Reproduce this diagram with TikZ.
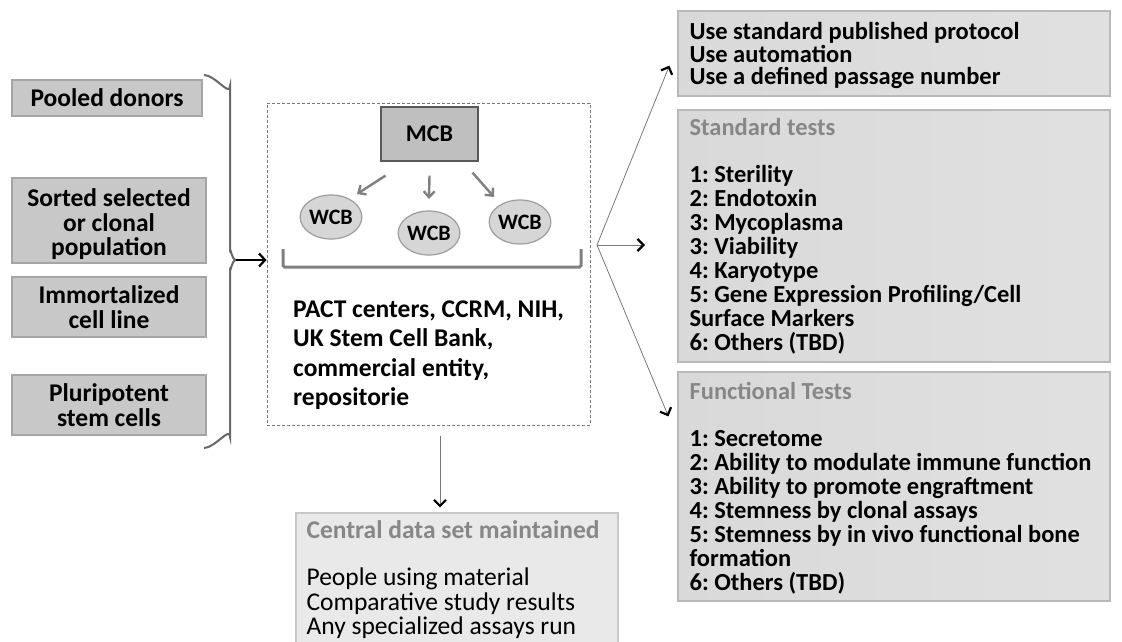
\documentclass[tikz,border=0pt]{standalone}
\usepackage{fontspec}
\setmainfont{Carlito}
\frenchspacing
\usetikzlibrary{arrows.meta,shapes.geometric,calc}
\definecolor{lbfill}{RGB}{200,200,200}
\definecolor{lbdraw}{RGB}{165,165,165}
\definecolor{rbfill}{RGB}{217,217,217}
\definecolor{rbdraw}{RGB}{185,185,185}
\definecolor{cdfill}{RGB}{233,233,233}
\definecolor{cddraw}{RGB}{200,200,200}
\definecolor{titlegray}{RGB}{135,135,135}
\definecolor{linegray}{RGB}{120,120,120}
\definecolor{bracegray}{RGB}{105,105,105}
\tikzset{
  leftbox/.style={draw=lbdraw, fill=lbfill, line width=1.2pt, align=center, inner sep=0pt,
    font=\bfseries\fontsize{25.5}{24.5}\selectfont},
  rightbox/.style={draw=rbdraw, line width=1.2pt, left color=rbfill, right color=rbfill!80!white, inner sep=0pt},
  righttext/.style={anchor=west, align=left, inner sep=0pt, font=\bfseries\fontsize{24.5}{23.9}\selectfont},
  dashbox/.style={draw=linegray, dashed, dash pattern=on 3pt off 2pt, line width=0.9pt, inner sep=0pt},
  mcbbox/.style={draw=black!65, fill=black!25, line width=1.2pt, inner sep=0pt,
    font=\bfseries\fontsize{24}{24}\selectfont},
  wcb/.style={ellipse, draw=black!38, fill=black!16, line width=1.2pt, inner sep=0pt,
    minimum width=50pt, minimum height=44pt, font=\bfseries\fontsize{22}{24}\selectfont},
  grayarr/.style={draw=black!50, line width=2.4pt, -{Straight Barb[length=6pt,width=11pt]}},
  thinarr/.style={draw=linegray, line width=0.8pt, -{Straight Barb[length=6pt,width=12pt,line width=2.2pt,color=black]}},
  blackarr/.style={draw=black, line width=2pt, -{Straight Barb[length=6pt,width=13pt,line width=2.2pt]}},
}
\begin{document}
\begin{tikzpicture}[x=1pt,y=-1pt]
\clip (0,0) rectangle (1122,642);
\fill[white] (0,0) rectangle (1122,642);

% left boxes
\node[leftbox, minimum width=190pt, minimum height=36pt] (pool) at (107,98) {Pooled donors};
\node[leftbox, minimum width=194pt, minimum height=85pt] (sort) at (109,220.5) {\rule{0pt}{26pt}Sorted selected\\or clonal\\population};
\node[leftbox, minimum width=194pt, minimum height=60pt] (imm) at (109,307) {Immortalized\\cell line};
\node[leftbox, minimum width=194pt, minimum height=60pt] (plu) at (109,405) {Pluripotent\\stem cells};

% brace
\draw[bracegray, line width=2pt] (204,75) to[out=0,in=-90] (230,86) -- (230,250)
  to[out=90,in=180] (236,260) to[out=180,in=-90] (230,270) -- (230,437) to[out=90,in=0] (204,448);
\coordinate (bt) at (236,260);

% center dashed box
\node[dashbox, minimum width=323pt, minimum height=322pt] (cbox) at (428.5,264) {};
\draw[blackarr] (bt) -- (bt -| cbox.west);

\node[mcbbox, minimum width=97pt, minimum height=54pt] (mcb) at (429.5,134) {MCB};
\node[wcb] (w1) at (331,217) {WCB};
\node[wcb] (w2) at (429,233) {WCB};
\node[wcb] (w3) at (520,222) {WCB};
\draw[grayarr] ($(mcb.south)+(-44,14)$) -- ($(w1)+(26,-23)$);
\draw[grayarr] ($(mcb.south)+(0,14)$) -- ($(w2)+(0,-34)$);
\draw[grayarr] ($(mcb.south)+(43,11)$) -- ($(w3)+(-26,-25)$);
\draw[black!50, line width=3pt, rounded corners=1.5pt] (283,249) -- (283,267) -- (581,267) -- (581,249);

\node[anchor=west, align=left, inner sep=0pt, font=\bfseries\fontsize{25.5}{29.5}\selectfont] (ctext) at (293,355)
  {PACT centers, CCRM, NIH,\\UK Stem Cell Bank,\\commercial entity,\\repositorie};

% right boxes
\node[rightbox, minimum width=432pt, minimum height=85pt] (r1) at (894,53.5) {};
\node[righttext, font=\bfseries\fontsize{24.5}{22.5}\selectfont] (r1t) at ($(r1.west)+(12,2)$)
  {Use standard published protocol\\Use automation\\Use a defined passage number};
\node[rightbox, minimum width=432pt, minimum height=252pt] (r2) at (894,236) {};
\node[righttext] (r2t) at ($(r2.west)+(12,0)$)
  {\textcolor{titlegray}{Standard tests}\\[23.9pt]1: Sterility\\2: Endotoxin\\3: Mycoplasma\\3: Viability\\4: Karyotype\\5: Gene Expression Profiling/Cell\\Surface Markers\\6: Others (TBD)};
\node[rightbox, minimum width=432pt, minimum height=229pt] (r3) at (894,486.5) {};
\node[righttext] (r3t) at ($(r3.west)+(12,1.5)$)
  {\textcolor{titlegray}{Functional Tests}\\[23.9pt]1: Secretome\\2: Ability to modulate immune function\\3: Ability to promote engraftment\\4: Stemness by clonal assays\\5: Stemness by in vivo functional bone\\formation\\6: Others (TBD)};

% fan arrows
\coordinate (fan) at (597,245);
\draw[thinarr] (fan) -- ($(r1.south west)+(-8,-31)$);
\draw[thinarr] (fan) -- (fan -| 645,0);
\draw[thinarr] (fan) -- ($(r3.north west)+(-9,45)$);

% central data set box
\node[draw=cddraw, fill=cdfill, line width=1.2pt, minimum width=322pt, minimum height=148pt, inner sep=0pt] (cd) at (457,587) {};
\node[anchor=north west, align=left, inner sep=0pt, font=\fontsize{25.5}{24.8}\selectfont] (cdtext) at ($(cd.north west)+(11,8)$)
  {\textcolor{titlegray}{\bfseries Central data set maintained}\\[22pt]People using material\\Comparative study results\\Any specialized assays run};

\coordinate (ds) at (440,436);
\draw[thinarr] (ds) -- ($(ds |- cd.north)+(0,-5)$);
\end{tikzpicture}
\end{document}
